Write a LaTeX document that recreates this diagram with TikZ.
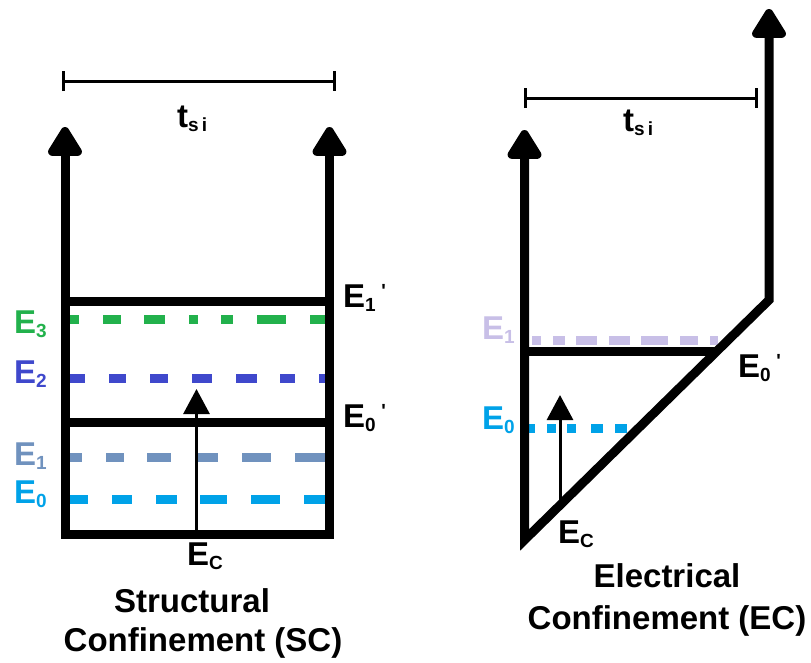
\documentclass[tikz,border=0pt]{standalone}
\usepackage{fontspec}
\setmainfont{Liberation Sans}
\usetikzlibrary{arrows.meta}
\definecolor{lvgreen}{RGB}{34,177,76}
\definecolor{lvindigo}{RGB}{63,72,204}
\definecolor{lvsteel}{RGB}{112,146,190}
\definecolor{lvcyan}{RGB}{0,162,232}
\definecolor{lvlavender}{RGB}{200,191,231}
\newcommand{\lowidx}[1]{\raisebox{-4pt}{\fontsize{19}{19}\selectfont #1}}
\begin{document}
\begin{tikzpicture}[
  x=1pt, y=-1pt,
  wall/.style={line width=9pt},
  bigtips/.style={wall, {Triangle[round, width=38pt, length=33pt]}-{Triangle[round, width=38pt, length=33pt]}},
  thinarrow/.style={line width=3pt, -{Triangle[width=26pt, length=25pt]}},
  level/.style={line width=9pt},
  dimline/.style={line width=3pt, {Bar[width=20pt]}-{Bar[width=20pt]}},
  lbl/.style={font=\fontsize{33}{33}\selectfont\bfseries, inner sep=0pt, anchor=base west},
  caption/.style={font=\fontsize{33}{42}\selectfont\bfseries, align=center, inner sep=0pt}
]
\useasboundingbox (0,0) rectangle (811,662);

% structural confinement
\coordinate (scTL) at (65,127);
\coordinate (scBL) at (65,534);
\coordinate (scBR) at (329.5,534);
\coordinate (scTR) at (329.5,127);
\coordinate (scEc) at (196.5,534);
\coordinate (scTip) at (196.5,389);

\draw[level, lvgreen, dash pattern=on 9pt off 24pt on 18pt off 23pt on 21pt off 24pt on 9pt off 23pt on 12pt off 24pt on 29pt off 24pt on 15pt off 100pt]
  (70,319.5) -- (325,319.5);
\draw[level, lvindigo, dash pattern=on 15pt off 24pt on 17pt off 24pt on 18pt off 24pt on 20pt off 24pt on 21pt off 23pt on 15pt off 24pt on 6pt off 100pt]
  (70,378.5) -- (325,378.5);
\draw[level, lvsteel, dash pattern=on 12pt off 24pt on 18pt off 23pt on 24pt off 27pt on 20pt off 24pt on 29pt off 24pt on 30pt off 100pt]
  (70,457.5) -- (325,457.5);
\draw[level, lvcyan, dash pattern=on 18pt off 24pt on 20pt off 24pt on 21pt off 23pt on 27pt off 24pt on 29pt off 24pt on 21pt off 100pt]
  (70,499.5) -- (325,499.5);

\draw[thinarrow] (scEc) -- (scTip);
\draw[bigtips] (scTL) -- (scBL) -- (scBR) -- (scTR);
\draw[wall] (scBL |- 0,301) -- (scBR |- 0,301);
\draw[wall] (scBL |- 0,422) -- (scBR |- 0,422);

\draw[dimline] (62,81) -- (336,81);
\node[lbl] (scTsi) at (177,127) {t\lowidx{s\,i}};

\node[lbl, lvgreen] (scE3) at (14,333) {E\lowidx{3}};
\node[lbl, lvindigo] (scE2) at (14,383) {E\lowidx{2}};
\node[lbl, lvsteel] (scE1) at (14,465) {E\lowidx{1}};
\node[lbl, lvcyan] (scE0) at (14,503) {E\lowidx{0}};
\node[lbl] (scE1p) at (343,307) {E\lowidx{1}\,\raisebox{10pt}{\fontsize{19}{19}\selectfont\textquotesingle}};
\node[lbl] (scE0p) at (343,427) {E\lowidx{0}\,\raisebox{10pt}{\fontsize{19}{19}\selectfont\textquotesingle}};
\node[lbl] (scEcl) at (187,565) {E\lowidx{C}};

\node[caption] (scCapA) at (192,601) {Structural};
\node[caption] (scCapB) at (203,643) {Confinement (SC)};

% electrical confinement
\coordinate (ecTL) at (524.5,130);
\coordinate (ecB) at (524.5,540);
\coordinate (ecK) at (769,300);
\coordinate (ecTR) at (769,9);
\coordinate (ecEc) at (560,506);
\coordinate (ecTip) at (560,395);

\draw[level, lvlavender, dash pattern=on 9pt off 12pt on 12pt off 11pt on 21pt off 12pt on 21pt off 11pt on 27pt off 12pt on 18pt off 12pt on 8pt off 100pt]
  (532,340.5) -- (718,340.5);
\draw[level, lvcyan, dash pattern=on 6pt off 12pt on 9pt off 11pt on 9pt off 15pt on 12pt off 12pt on 12pt off 100pt]
  (529,428.5) -- (627,428.5);

\draw[thinarrow] (ecEc) -- (ecTip);
\draw[bigtips] (ecTL) -- (ecB) -- (ecK) -- (ecTR);
\draw[wall] (ecB |- 0,351) -- (717,351);

\draw[dimline] (524,98) -- (758,98);
\node[lbl] (ecTsi) at (623,131) {t\lowidx{s\,i}};

\node[lbl, lvlavender] (ecE1) at (482,339) {E\lowidx{1}};
\node[lbl, lvcyan] (ecE0) at (482,429) {E\lowidx{0}};
\node[lbl] (ecE0p) at (738,377) {E\lowidx{0}\,\raisebox{10pt}{\fontsize{19}{19}\selectfont\textquotesingle}};
\node[lbl] (ecEcl) at (558,543) {E\lowidx{C}};

\node[caption] (ecCap) at (667,600) {Electrical\\Confinement (EC)};
\end{tikzpicture}
\end{document}
